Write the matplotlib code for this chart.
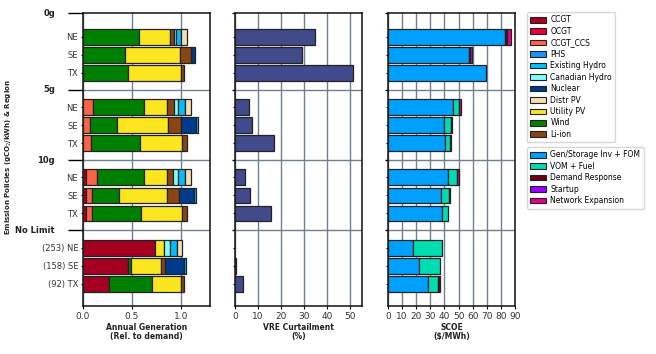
import numpy as np
import matplotlib
matplotlib.use("Agg")
import matplotlib.pyplot as plt
import matplotlib.transforms as mtransforms
from matplotlib.patches import Patch

plt.rcParams['font.family'] = ['DejaVu Sans']

# bars top to bottom: 0g NE/SE/TX, 5g NE/SE/TX, 10g NE/SE/TX, No Limit NE/SE/TX
groups = ["0g", "5g", "10g", "No Limit"]
regions = ["NE", "SE", "TX"]
bar_labels = ["NE", "SE", "TX"] * 3 + ["(253) NE", "(158) SE", "(92) TX"]

# annual generation, relative to demand (stack order left -> right)
gen = {
    "CCGT":           [0, 0, 0, 0, 0, 0, 0.030, 0.027, 0.027, 0.741, 0.463, 0.269],
    "OCGT":           [0, 0, 0, 0, 0, 0, 0, 0, 0, 0, 0, 0],
    "CCGT_CCS":       [0, 0, 0, 0.105, 0.075, 0.085, 0.116, 0.068, 0.068, 0, 0, 0],
    "Wind":           [0.575, 0.432, 0.463, 0.521, 0.275, 0.500, 0.480, 0.276, 0.500, 0, 0.030, 0.438],
    "Utility PV":     [0.316, 0.561, 0.540, 0.235, 0.521, 0.429, 0.235, 0.490, 0.419, 0.089, 0.306, 0.296],
    "Li-ion":         [0.041, 0.112, 0.031, 0.071, 0.132, 0.051, 0.061, 0.122, 0.051, 0, 0.041, 0.031],
    "Nuclear":        [0, 0.038, 0, 0, 0.153, 0, 0, 0.153, 0, 0, 0.197, 0],
    "Canadian Hydro": [0.020, 0, 0, 0.041, 0, 0, 0.051, 0, 0, 0.061, 0, 0],
    "Existing Hydro": [0.051, 0, 0, 0.075, 0.021, 0, 0.075, 0.020, 0, 0.068, 0.017, 0],
    "PHS":            [0, 0, 0, 0, 0, 0, 0, 0, 0, 0, 0, 0],
    "Distr PV":       [0.062, 0, 0, 0.057, 0, 0, 0.057, 0, 0, 0.055, 0, 0],
}
gen_colors = {
    "CCGT": "#a50021", "OCGT": "#e4003a", "CCGT_CCS": "#ff6347",
    "PHS": "#1e90ff", "Existing Hydro": "#00bfff", "Canadian Hydro": "#80ffff",
    "Nuclear": "#003a8c", "Distr PV": "#f5deb3", "Utility PV": "#fce620",
    "Wind": "#008000", "Li-ion": "#8b4513",
}
gen_legend = ["CCGT", "OCGT", "CCGT_CCS", "PHS", "Existing Hydro", "Canadian Hydro",
              "Nuclear", "Distr PV", "Utility PV", "Wind", "Li-ion"]

# VRE curtailment (%)
curtail = [34.6, 28.9, 51.3, 6.0, 7.3, 16.8, 4.3, 6.6, 15.7, 0.0, 0.4, 3.4]

# SCOE ($/MWh)
scoe = {
    "Gen/Storage Inv + FOM": [82.9, 57.4, 69.5, 46.0, 39.5, 40.2, 42.4, 37.4, 38.1, 17.4, 21.7, 28.1],
    "VOM + Fuel":            [0, 0, 0, 4.0, 5.0, 3.6, 6.2, 5.7, 4.3, 20.9, 15.0, 7.6],
    "Demand Response":       [1.4, 0.9, 0, 0, 1.0, 1.0, 0, 0.9, 0, 0, 0, 1.2],
    "Startup":               [0, 0, 0, 0, 0, 0, 0, 0, 0, 0, 0, 0],
    "Network Expansion":     [2.6, 1.5, 0, 1.7, 0, 0, 1.6, 0, 0, 0, 0, 0],
}
scoe_colors = {
    "Gen/Storage Inv + FOM": "#00a0ff", "VOM + Fuel": "#00ddb0",
    "Demand Response": "#6b0015", "Startup": "#9a00ff", "Network Expansion": "#e6008a",
}

# y layout
gap = 3.9
ypos = np.array([g * gap + 1 + r for g in range(4) for r in range(3)])
seps = [g * gap + 3.94 for g in range(3)]
ytop, ybot = -0.33, 15.94
edge = "#222222"
grid_c = "#708090"
H = 0.88

fig = plt.figure(figsize=(6.56, 3.54), dpi=100)
W = 127 / 656
bottom = 1 - 306 / 354
height = 293 / 354
ax1 = fig.add_axes([83 / 656, bottom, W, height])
ax2 = fig.add_axes([235 / 656, bottom, W, height])
ax3 = fig.add_axes([388 / 656, bottom, W, height])


def stack(ax, data, colors):
    left = np.zeros(len(ypos))
    for name, vals in data.items():
        vals = np.array(vals, dtype=float)
        m = vals > 0
        ax.barh(ypos[m], vals[m], left=left[m], height=H, color=colors[name],
                edgecolor=edge, linewidth=0.9, zorder=3)
        left += vals


stack(ax1, gen, gen_colors)
m = np.array(curtail) > 0
ax2.barh(ypos[m], np.array(curtail)[m], height=H, color="#414a8b",
         edgecolor=edge, linewidth=0.9, zorder=3)
stack(ax3, scoe, scoe_colors)

ax1.set_xlim(0, 1.3)
ax1.set_xticks([0, 0.5, 1.0])
ax1.set_xticklabels(["0.0", "0.5", "1.0"])
ax2.set_xlim(0, 55)
ax2.set_xticks(range(0, 51, 10))
ax3.set_xlim(0, 90)
ax3.set_xticks(range(0, 91, 10))

for ax in (ax1, ax2, ax3):
    ax.set_ylim(ybot, ytop)
    ax.set_axisbelow(True)
    ax.grid(axis="x", color=grid_c, linewidth=1.0, zorder=0)
    for s in seps:
        ax.axhline(s, color=grid_c, linewidth=1.0, zorder=0)
    for sp in ax.spines.values():
        sp.set_linewidth(1.1)
        sp.set_color("#111111")
    ax.set_yticks(ypos)
    ax.set_yticks([ytop] + seps, minor=True)
    ax.tick_params(axis="x", labelsize=6.5, length=2, width=0.8, pad=2, labelcolor="#333333")
    ax.tick_params(axis="y", which="major", length=1.5, width=0.8)

ax1.set_yticklabels(bar_labels, fontsize=6, color="#333333")
ax1.tick_params(axis="y", which="minor", length=11, width=1.0)
ax1.tick_params(axis="y", which="major", pad=2)
for ax in (ax2, ax3):
    ax.set_yticklabels([])
    ax.tick_params(axis="y", which="minor", length=2.5, width=1.0)

trans = mtransforms.blended_transform_factory(ax1.transAxes, ax1.transData)
for g, y in zip(groups, [ytop] + seps):
    ax1.text(-0.22, y, g, transform=trans, ha="right", va="center",
             fontsize=6, fontweight="bold", color="#222222")

lab_kw = dict(fontsize=5.5, fontweight="bold", color="#222222", labelpad=2, linespacing=1.0)
ax1.set_xlabel("Annual Generation\n(Rel. to demand)", **lab_kw)
ax2.set_xlabel("VRE Curtailment\n(%)", **lab_kw)
ax3.set_xlabel("SCOE\n(\\$/MWh)", **lab_kw)

fig.text(0.014, 0.555, "Emission Policies (gCO$_2$/kWh) & Region", rotation=90,
         ha="center", va="center", fontsize=5, fontweight="bold", color="#222222")

leg_kw = dict(loc="upper left", fontsize=5.5, frameon=True, edgecolor="#cccccc",
              handlelength=2.0, handleheight=0.75, labelspacing=0.32, borderpad=0.45,
              handletextpad=0.6, borderaxespad=0)
h1 = [Patch(facecolor=gen_colors[n], edgecolor=edge, linewidth=0.8) for n in gen_legend]
fig.legend(h1, gen_legend, bbox_to_anchor=(527 / 656, 1 - 12 / 354), **leg_kw)
h2 = [Patch(facecolor=scoe_colors[n], edgecolor=edge, linewidth=0.8) for n in scoe]
fig.legend(h2, list(scoe), bbox_to_anchor=(527 / 656, 1 - 147 / 354), **leg_kw)

fig.savefig("out.png", dpi=100)
